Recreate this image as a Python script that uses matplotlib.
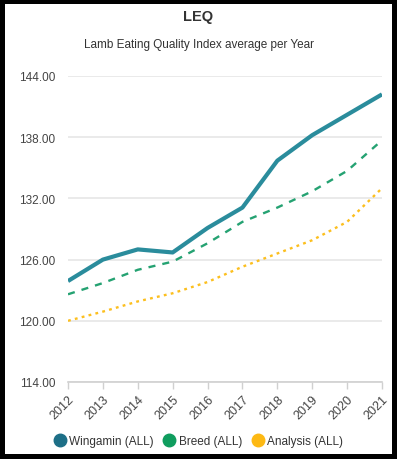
import matplotlib
matplotlib.use("Agg")
from matplotlib import pyplot as plt
from matplotlib.patches import Rectangle
from matplotlib.lines import Line2D

plt.rcParams['font.family'] = ['Liberation Sans', 'DejaVu Sans']

years = [2012, 2013, 2014, 2015, 2016, 2017, 2018, 2019, 2020, 2021]
wingamin = [123.9, 126.0, 127.0, 126.7, 129.1, 131.1, 135.7, 138.2, 140.2, 142.2]
breed = [122.6, 123.7, 125.0, 125.8, 127.6, 129.7, 131.1, 132.7, 134.7, 137.7]
analysis = [120.0, 120.9, 121.9, 122.7, 123.8, 125.3, 126.6, 127.9, 129.7, 133.0]
y_ticks = [114, 120, 126, 132, 138, 144]

fig = plt.figure(figsize=(3.97, 4.60), dpi=100)
fig.patch.set_facecolor('white')
# black frame round the card
fig.patches.append(Rectangle((0, 0), 1, 1, transform=fig.transFigure,
                             fill=False, edgecolor='black', lw=7.2, zorder=10))

ax = fig.add_axes([68 / 397, 1 - 383 / 460, (382 - 68) / 397, (383 - 77) / 460])

ax.plot(years, wingamin, color='#2a8c9c', lw=3.0, solid_capstyle='butt', zorder=4)
ax.plot(years, breed, color='#25a272', lw=1.7, linestyle=(0, (3, 3)), zorder=3)
ax.plot(years, analysis, color='#fcbf1e', lw=1.7, linestyle=(0, (1.2, 1.8)), zorder=3)

ax.set_xlim(2012, 2021)
ax.set_ylim(114, 144)
ax.set_yticks(y_ticks)
ax.set_yticklabels([f"{v:.2f}" for v in y_ticks])
ax.set_xticks(years)
ax.set_xticklabels([str(y) for y in years], rotation=45, ha='right',
                   rotation_mode='anchor')

ax.grid(axis='y', color='#e6e6e6', lw=1.2)
ax.set_axisbelow(True)
for s in ['top', 'right', 'left']:
    ax.spines[s].set_visible(False)
ax.spines['bottom'].set_color('#d0d0d0')
ax.spines['bottom'].set_linewidth(1.2)
ax.tick_params(axis='y', length=0, pad=9, labelsize=8.5, labelcolor='#444444')
ax.tick_params(axis='x', length=5, width=1, color='#d0d0d0', pad=3,
               labelsize=9, labelcolor='#444444')

fig.text(0.5, 1 - 17 / 460, 'LEQ', ha='center', va='center', fontsize=10.5,
         fontweight='bold', color='#333333')
fig.text(0.5, 1 - 45 / 460, 'Lamb Eating Quality Index average per Year',
         ha='center', va='center', fontsize=8.5, color='#333333')

handles = [
    Line2D([], [], marker='o', ls='none', markersize=9, color='#1d6f87'),
    Line2D([], [], marker='o', ls='none', markersize=9, color='#0f9d5e'),
    Line2D([], [], marker='o', ls='none', markersize=9, color='#fdb913'),
]
fig.legend(handles, ['Wingamin (ALL)', 'Breed (ALL)', 'Analysis (ALL)'],
           loc='center', bbox_to_anchor=(0.5, 1 - 442 / 460), ncol=3,
           frameon=False, fontsize=8.5, handletextpad=0.3, columnspacing=0.8,
           handlelength=1.0, labelcolor='#333333')

fig.savefig('out.png', dpi=100, facecolor=fig.get_facecolor())
